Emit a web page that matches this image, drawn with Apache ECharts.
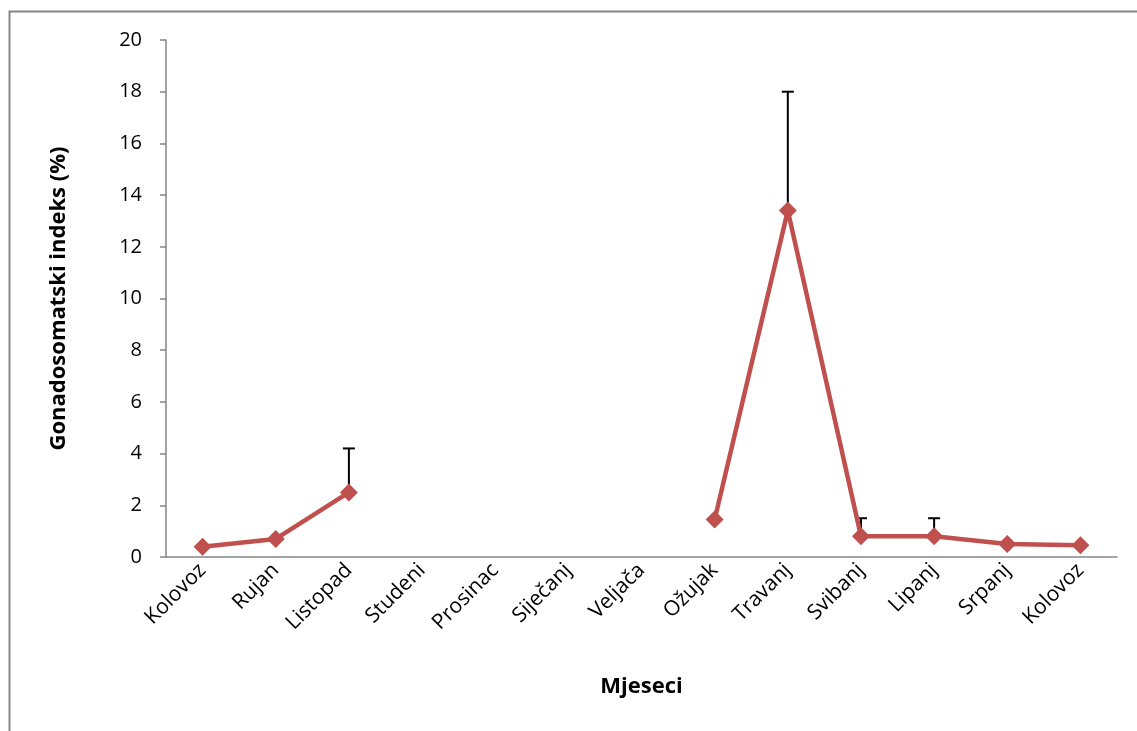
<!DOCTYPE html>
<html><head><meta charset="utf-8">
<script src="https://cdn.jsdelivr.net/npm/echarts@6/dist/echarts.min.js"></script>
<style>html,body{margin:0;padding:0;background:#fff}#c{width:1137px;height:731px}</style>
</head><body><div id="c"></div>
<script>
const categories = ['Kolovoz','Rujan','Listopad','Studeni','Prosinac','Siječanj','Veljača','Ožujak','Travanj','Svibanj','Lipanj','Srpanj','Kolovoz'];
const gsiValues = [0.4, 0.7, 2.5, null, null, null, null, 1.45, 13.4, 0.8, 0.8, 0.5, 0.45];
const errorUpper = [null, null, 4.2, null, null, null, null, null, 18.0, 1.5, 1.5, null, null];
const yTicks = {min: 0, max: 20, interval: 2};

const errData = [];
gsiValues.forEach((v, i) => { if (v != null && errorUpper[i] != null) errData.push([i, v, errorUpper[i]]); });

const chart = echarts.init(document.getElementById('c'));
const fontFam = '"Open Sans", "Noto Sans", sans-serif';
chart.setOption({
  animation: false,
  graphic: [{
    type: 'rect', left: 7, top: 9, shape: {width: 1200, height: 800},
    style: {fill: 'none', stroke: '#878787', lineWidth: 2}, z: -10
  }],
  grid: {left: 166, right: 20, top: 40, bottom: 174},
  xAxis: {
    type: 'category', data: categories, boundaryGap: true,
    axisLine: {lineStyle: {color: '#868686', width: 1.5}},
    axisTick: {show: false},
    axisLabel: {rotate: 45, color: '#000', fontSize: 21, fontFamily: fontFam, margin: 10, interval: 0},
    name: 'Mjeseci', nameLocation: 'middle', nameGap: 119,
    nameTextStyle: {color: '#000', fontSize: 22, fontWeight: 'bold', fontFamily: fontFam}
  },
  yAxis: {
    type: 'value', min: yTicks.min, max: yTicks.max, interval: yTicks.interval,
    axisLine: {show: true, lineStyle: {color: '#868686', width: 1.5}},
    axisTick: {show: true, inside: false, length: 6, lineStyle: {color: '#868686', width: 1.5}},
    splitLine: {show: false},
    axisLabel: {color: '#000', fontSize: 20, fontFamily: fontFam, margin: 24},
    name: 'Gonadosomatski indeks (%)', nameLocation: 'middle', nameGap: 96, nameRotate: 90,
    nameTextStyle: {color: '#000', fontSize: 22, fontWeight: 'bold', fontFamily: fontFam}
  },
  series: [{
    type: 'custom', z: 1,
    data: errData,
    renderItem: function (params, api) {
      const x = api.value(0);
      const p0 = api.coord([x, api.value(1)]);
      const p1 = api.coord([x, api.value(2)]);
      const style = {stroke: '#000', lineWidth: 2};
      return {type: 'group', children: [
        {type: 'line', shape: {x1: p0[0], y1: p0[1], x2: p1[0], y2: p1[1]}, style: style},
        {type: 'line', shape: {x1: p1[0] - 6, y1: p1[1], x2: p1[0] + 6, y2: p1[1]}, style: style}
      ]};
    }
  }, {
    type: 'line', z: 5, data: gsiValues, connectNulls: false,
    symbol: 'diamond', symbolSize: 18,
    lineStyle: {color: '#C0504D', width: 4.5},
    itemStyle: {color: '#C0504D'}
  }]
});
</script></body></html>
